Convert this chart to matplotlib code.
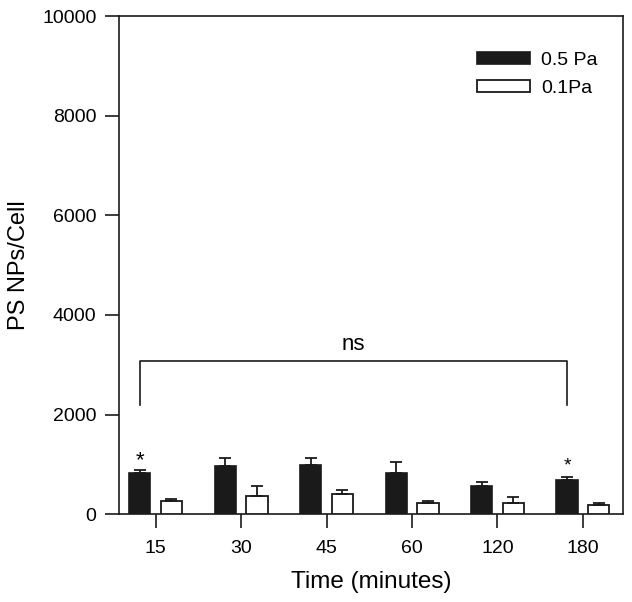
import matplotlib
matplotlib.use("Agg")
import matplotlib.pyplot as plt
import numpy as np

plt.rcParams['font.family'] = ['Liberation Sans', 'DejaVu Sans']

categories = ["15", "30", "45", "60", "120", "180"]
high_vals = [823, 970, 983, 830, 562, 689]
high_err = [67, 154, 141, 207, 87, 47]
low_vals = [261, 361, 395, 221, 221, 181]
low_err = [47, 194, 93, 40, 120, 40]
series_labels = ["0.5 Pa", "0.1Pa"]
yticks = [0, 2000, 4000, 6000, 8000, 10000]

fig = plt.figure(figsize=(6.32, 6.02), dpi=100)
ax = fig.add_axes([0.188, 0.146, 0.798, 0.827])

x = np.arange(len(categories))
w = 0.25
off = 0.185
ekw = dict(ecolor='#1a1a1a', elinewidth=1.3, capsize=4.5, capthick=1.3)
ax.bar(x - off, high_vals, w, color='#1a1a1a', edgecolor='#1a1a1a', linewidth=1.2,
       yerr=[np.zeros(len(x)), high_err], error_kw=ekw, label=series_labels[0], zorder=3)
ax.bar(x + off, low_vals, w, color='white', edgecolor='#1a1a1a', linewidth=1.3,
       yerr=[np.zeros(len(x)), low_err], error_kw=ekw, label=series_labels[1], zorder=3)

ax.set_xlim(-0.43, 5.47)
ax.set_ylim(0, 10000)
ax.set_xticks(x)
ax.set_xticklabels(categories)
ax.set_yticks(yticks)
ax.tick_params(direction='out', length=10, width=1.2, labelsize=14, color='#1a1a1a')
ax.tick_params(axis='y', pad=6)
ax.tick_params(axis='x', pad=9)
for s in ax.spines.values():
    s.set_linewidth(1.2)
    s.set_color('#1a1a1a')

ax.set_xlabel("Time (minutes)", fontsize=17.5, labelpad=10)
ax.set_ylabel("PS NPs/Cell", fontsize=17, labelpad=9)

# significance bracket
xl, xr = x[0] - off, x[-1] - off
ax.plot([xl, xl, xr, xr], [2200, 3084, 3084, 2200], color='#1a1a1a', lw=1.2)
ax.text((xl + xr) / 2, 3190, "ns", ha='center', va='bottom', fontsize=16)
ax.text(x[0] - off, 1080, "*", ha='center', va='center', fontsize=16)
ax.text(x[-1] - off, 960, "*", ha='center', va='center', fontsize=14)

leg = ax.legend(loc='upper left', bbox_to_anchor=(477 / 632, 1 - 52 / 602),
                bbox_transform=fig.transFigure, frameon=False, borderpad=0,
                borderaxespad=0, fontsize=14, handlelength=2.73, handleheight=0.57,
                handletextpad=0.57, labelspacing=0.55)

fig.savefig("out.png", dpi=100)
